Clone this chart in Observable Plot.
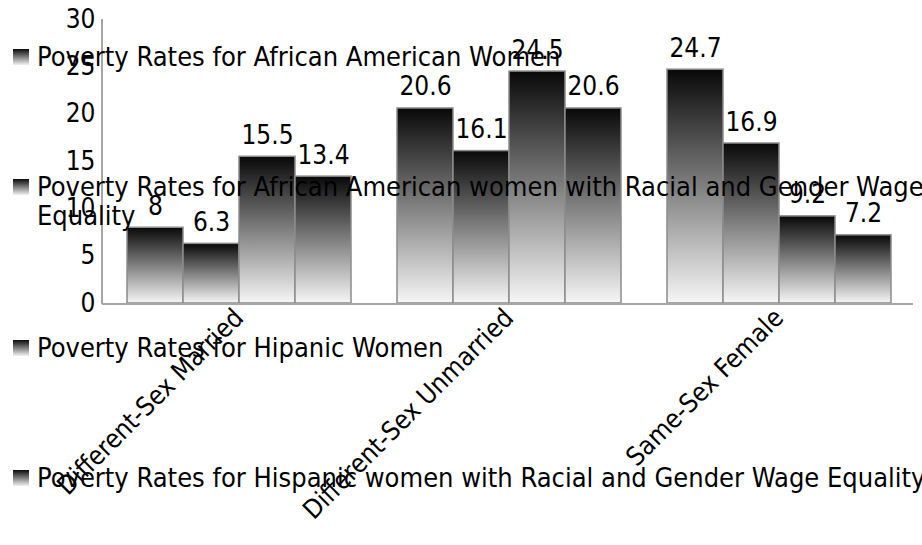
<!DOCTYPE html>
<html>
<head>
<meta charset="utf-8">
<script src="https://cdn.jsdelivr.net/npm/d3@7"></script>
<script src="https://cdn.jsdelivr.net/npm/@observablehq/plot@0.6"></script>
<style>
  html, body { margin: 0; padding: 0; background: #fff; }
  #wrap { position: relative; width: 922px; height: 545px; overflow: hidden;
          font-family: "DejaVu Sans Condensed", "DejaVu Sans", sans-serif; font-stretch: condensed; }
  #legend { position: absolute; left: 0; top: 0; width: 922px; height: 545px; pointer-events: none; }
  .item { position: absolute; left: 13px; display: flex; align-items: flex-start;
          font-size: 27px; line-height: 29px; color: #000; white-space: nowrap; }
  .sw { width: 16px; height: 16px; margin-top: 7px; margin-right: 8px; flex: none;
        background: linear-gradient(#0a0a0a, #f2f2f2); }
</style>
</head>
<body>
<div id="wrap"><div id="chart"></div><div id="legend"></div></div>
<script>
const categories = ["Different-Sex Married", "Different-Sex Unmarried", "Same-Sex Female"];
const seriesNames = [
  "Poverty Rates for African American Women",
  "Poverty Rates for African American women with Racial and Gender Wage Equality",
  "Poverty Rates for Hipanic Women",
  "Poverty Rates for Hispanic women with Racial and Gender Wage Equality"
];
const legendLines = [
  ["Poverty Rates for African American Women"],
  ["Poverty Rates for African American women with Racial and Gender Wage", "Equality"],
  ["Poverty Rates for Hipanic Women"],
  ["Poverty Rates for Hispanic women with Racial and Gender Wage Equality"]
];
const africanAmerican   = [8, 20.6, 24.7];
const africanAmericanEq = [6.3, 16.1, 16.9];
const hispanic          = [15.5, 24.5, 9.2];
const hispanicEq        = [13.4, 20.6, 7.2];
const yTicks = [0, 5, 10, 15, 20, 25, 30];

const seriesValues = [africanAmerican, africanAmericanEq, hispanic, hispanicEq];
const rows = [];
categories.forEach((c, ci) => {
  seriesNames.forEach((s, si) => rows.push({category: c, series: s, value: seriesValues[si][ci]}));
});

const font = "'DejaVu Sans Condensed', 'DejaVu Sans', sans-serif";
const chart = Plot.plot({
  width: 922,
  height: 545,
  marginLeft: 103,
  marginRight: 9,
  marginTop: 19,
  marginBottom: 242,
  style: {fontFamily: font, fontSize: "26px", color: "#000", background: "#fff", overflow: "visible"},
  fx: {domain: categories, paddingInner: 0.16, paddingOuter: 0.08, label: null},
  x: {domain: seriesNames, padding: 0, axis: null},
  y: {domain: [0, 30], label: null},
  marks: [
    Plot.axisY({ticks: yTicks, tickSize: 0, tickPadding: 30, fontSize: 26, label: null}),
    Plot.axisFx({anchor: "bottom", tickRotate: -45, tickSize: 0, tickPadding: 10, fontSize: 26, label: null}),
    Plot.barY(rows, {fx: "category", x: "series", y: "value", fill: "url(#barGrad)", stroke: "#8c8c8c", strokeWidth: 1.5}),
    Plot.text(rows, {fx: "category", x: "series", y: "value", text: d => String(d.value),
                     dy: -13, lineAnchor: "bottom", fontSize: 26, fill: "#000"})
  ]
});
document.getElementById("chart").appendChild(chart);

const svg = d3.select(chart.tagName.toLowerCase() === "svg" ? chart : chart.querySelector("svg"));
const defs = svg.insert("defs", ":first-child");
const g = defs.append("linearGradient").attr("id", "barGrad").attr("x1", 0).attr("y1", 0).attr("x2", 0).attr("y2", 1);
g.append("stop").attr("offset", "0%").attr("stop-color", "#080808");
g.append("stop").attr("offset", "100%").attr("stop-color", "#f6f6f6");

// axis lines
const ys = chart.scale("y");
const y0 = ys.apply(0), y30 = ys.apply(30);
svg.append("line").attr("x1", 102).attr("x2", 102).attr("y1", y30).attr("y2", y0 + 1)
   .attr("stroke", "#a6a6a6").attr("stroke-width", 2);
svg.append("line").attr("x1", 102).attr("x2", 913).attr("y1", y0 + 1).attr("y2", y0 + 1)
   .attr("stroke", "#a6a6a6").attr("stroke-width", 2);

// legend overlay
const legendTops = [42, 172, 333, 463];
const legend = document.getElementById("legend");
legendLines.forEach((lines, i) => {
  const item = document.createElement("div");
  item.className = "item";
  item.style.top = legendTops[i] + "px";
  const sw = document.createElement("div");
  sw.className = "sw";
  const txt = document.createElement("div");
  txt.innerHTML = lines.join("<br>");
  item.appendChild(sw);
  item.appendChild(txt);
  legend.appendChild(item);
});
</script>
</body>
</html>
